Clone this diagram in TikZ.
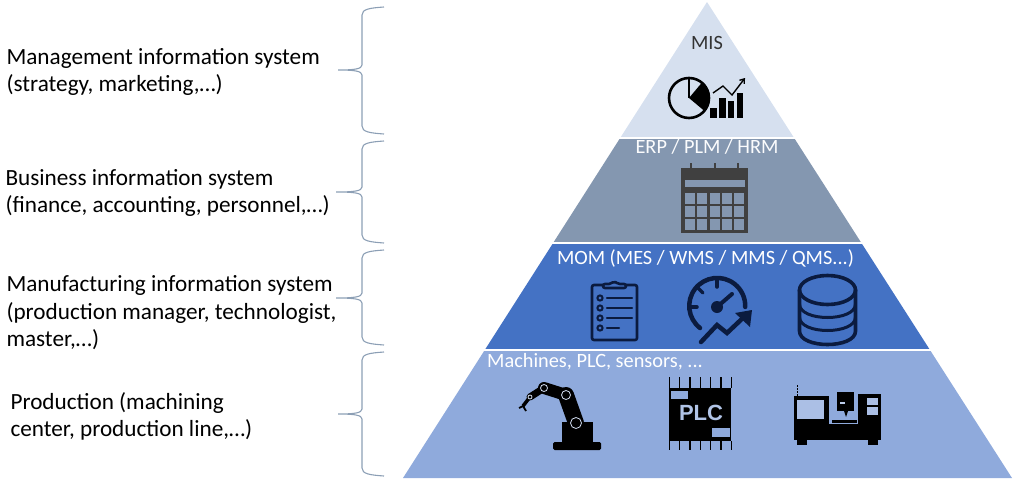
\documentclass[tikz,border=0pt]{standalone}
\usepackage{fontspec}
\setmainfont{Carlito}
\newfontfamily\plcfont{Liberation Sans}
\usetikzlibrary{calc}
\usetikzlibrary{arrows.meta}

\definecolor{bandmis}{HTML}{D6E0EF}
\definecolor{banderp}{HTML}{8497B0}
\definecolor{bandmom}{HTML}{4472C4}
\definecolor{bandpro}{HTML}{8FAADC}
\definecolor{bracecol}{HTML}{8C9FB5}
\definecolor{calcol}{HTML}{404040}
\definecolor{momicon}{HTML}{0B1B3F}

\tikzset{
    leftlabel/.style={anchor=west,align=left,text=black,font=\fontsize{23.2}{27.5}\selectfont},
    bandlabel/.style={text=white,font=\fontsize{20.3}{22}\selectfont},
    bracemark/.style={draw=bracecol,line width=1.1pt},
    momline/.style={draw=momicon,line width=2.6pt,line cap=round},
    pinline/.style={draw=black,line width=1.3pt}
}

\newcommand{\bracemacro}[4]{%
    \draw[bracemark] (384,#1) .. controls (370,#1+1) and (362,#1+2) .. (362,#1+8)
        -- (362,#2-5) .. controls (362,#2-1) and (354,#2) .. (#4,#2)
        (#4,#2) .. controls (354,#2) and (362,#2+1) .. (362,#2+5)
        -- (362,#3-8) .. controls (362,#3-2) and (370,#3-1) .. (384,#3);
}

\begin{document}
\begin{tikzpicture}[x=1pt,y=-1pt]
    \useasboundingbox (0,0) rectangle (1024,482);

    \coordinate (apex) at (707,2);
    \coordinate (baseL) at (403,478);
    \coordinate (baseR) at (1012,478);

    \begin{scope}
        \clip (apex) -- (baseL) -- (baseR) -- cycle;
        \fill[bandmis] (390,0) rectangle (1024,137);
        \fill[banderp] (390,139) rectangle (1024,242);
        \fill[bandmom] (390,244) rectangle (1024,349);
        \fill[bandpro] (390,351) rectangle (1024,482);
    \end{scope}

    \node[leftlabel] (mgmtText) at (3,72) {Management information system\\(strategy, marketing,…)};
    \node[leftlabel] (busText) at (2,193) {Business information system\\(finance, accounting, personnel,…)};
    \node[leftlabel] (manuText) at (3,313) {Manufacturing information system\\(production manager, technologist,\\master,…)};
    \node[leftlabel] (prodText) at (7,416.5) {Production (machining\\center, production line,…)};

    \bracemacro{7}{70}{134}{338}
    \bracemacro{141}{192}{243}{336}
    \bracemacro{250}{298}{345}{336}
    \bracemacro{352}{414}{476}{338}

    \node[bandlabel,text=black!80] (misText) at (707,43) {MIS};
    \node[bandlabel,text=white!90!bandmis] (erpText) at (707,147) {ERP / PLM / HRM};
    \node[bandlabel] (momText) at (705.5,258) {MOM (MES / WMS / MMS / QMS...)};
    \node[bandlabel,anchor=west,inner sep=0pt] (proText) at (487,361.5) {Machines, PLC, sensors, ...};

    % pie and bars
    \coordinate (pie) at (689,98);
    \draw[black,line width=2.6pt] (pie) circle (20);
    \draw[black,line width=1.6pt] (pie) -- ++(0,-20.7);
    \fill[black] (pie) -- ++(-50:21) arc[start angle=50,end angle=-40,radius=21pt] -- cycle;
    \fill[black] (710,108) rectangle (716.7,118);
    \fill[black] (719,98) rectangle (725.7,118);
    \fill[black] (727.7,101) rectangle (734.3,118);
    \fill[black] (736.7,92.7) rectangle (743.3,118);
    \draw[black,line width=1.4pt,-{Straight Barb[length=4pt,width=6pt]}] (713,93) -- (723,86) -- (732,95) -- (745,78);

    % calendar
    \fill[calcol] (681,168) rectangle (748,233);
    \fill[banderp] (685,180) rectangle (745,187);
    \foreach \i in {0,...,4}
        \foreach \j in {0,...,2}
            \fill[banderp] ({685+12.3*\i},{193.3+12.9*\j}) rectangle ++(10,10.4);
    \foreach \xr in {691,715,738}
        \draw[calcol,line width=2.2pt] (\xr,163) -- (\xr,175);

    % clipboard
    \draw[momline,rounded corners=2pt] (592,285) rectangle (637,340);
    \draw[momline,fill=bandmom,rounded corners=2pt] (603,288) -- (603,284) -- (611,284) -- (614,281) -- (618,284) -- (626,284) -- (626,288) -- cycle;
    \foreach \yr in {298,308,318,328}
        \draw[momicon,line width=2pt] (600,\yr) circle (2.6);
    \foreach \yr in {298,308,318}
        \draw[momline,line width=2.2pt] (607,\yr) -- (632,\yr);
    \draw[momline,line width=2.2pt] (607,328) -- (619,328);

    % gauge
    \coordinate (gauge) at (717,307);
    \draw[momline,line width=4.5pt] (700,328) arc[start angle=232,end angle=-2,radius=28pt];
    \foreach \a in {180,135,90}
        \draw[momline,line width=3.5pt] (gauge) ++(-\a:28) -- ++(-\a:-8);
    \fill[momicon] (gauge) circle (6);
    \draw[momline,line width=4pt] (gauge) -- (732,294);
    \draw[momline,line width=4.5pt] (701,342) -- (717,325) -- (727,333) -- (745,316);
    \fill[momicon] (752,310) -- (750,327) -- (735,313) -- cycle;

    % database
    \coordinate (dbtop) at (827.5,290);
    \draw[momline,line width=3.6pt] (dbtop) ellipse (28 and 14.5);
    \draw[momline,line width=3.6pt] (799.5,290) -- (799.5,331) .. controls (799.5,349) and (855.5,349) .. (855.5,331) -- (855.5,290);
    \draw[momline,line width=3pt] (799.5,304) .. controls (799.5,322) and (855.5,322) .. (855.5,304);
    \draw[momline,line width=3pt] (799.5,317) .. controls (799.5,335) and (855.5,335) .. (855.5,317);

    % robot
    \fill[black,rounded corners=1.5pt] (553,442) rectangle (601,450);
    \fill[black] (562,422) rectangle (593,442);
    \draw[black,line width=16pt,line cap=round] (576,423) -- (566,395);
    \draw[black,line width=12pt,line cap=round] (566,395) -- (544,388);
    \draw[black,line width=7pt,line cap=round] (544,388) -- (530,397);
    \draw[black,line width=3.5pt] (530,397) -- (523,406);
    \draw[black,line width=1.8pt] (519,408) -- (523,406) -- (526,411);
    \draw[bandpro!40!white,line width=.8pt] (576,423) circle (5.5);
    \draw[bandpro!40!white,line width=.8pt] (566,395) circle (4.5);
    \draw[bandpro!40!white,line width=.8pt] (544,388) circle (3.5);
    \draw[bandpro!40!white,line width=.8pt] (530,397) circle (2);

    % PLC
    \fill[black] (669,388) rectangle (731,441);
    \foreach \i in {0,...,6} {
        \draw[pinline] ({669.5+10.3*\i},377) -- ++(0,11);
        \draw[pinline] ({669.5+10.3*\i},441) -- ++(0,9);
    }
    \fill[bandpro] (671,391) rectangle (688,399);
    \fill[bandpro] (712,428) rectangle (730,437);
    \node[text=bandpro!70!white,inner sep=0pt,font=\plcfont\bfseries\fontsize{22}{22}\selectfont] (plcText) at (701,413) {PLC};

    % machine
    \fill[black] (794,396) rectangle (829,424);
    \fill[black] (794,424) rectangle (881,440);
    \fill[black] (858,394) rectangle (881,424);
    \fill[black] (797,440) rectangle (807,445);
    \fill[black] (868,440) rectangle (878,445);
    \fill[bandpro!75!white] (797,400) rectangle (824,419);
    \fill[bandpro!75!white] (867,398) rectangle (878,405);
    \fill[bandpro!75!white] (867,407) rectangle (878,415);
    \fill[black] (837,392) rectangle (854,411);
    \fill[bandpro!60!white] (840,402) rectangle (845,404);
    \fill[black] (844,411) -- (848,411) -- (846,417) -- cycle;
    \fill[black] (832,420) rectangle (857,423);
    \draw[black,line width=1pt,dash pattern=on 2pt off 1pt] (797,385) -- (797,396);
\end{tikzpicture}
\end{document}
